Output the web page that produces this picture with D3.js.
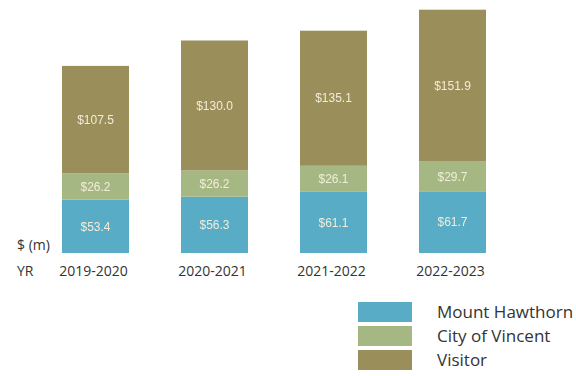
<!DOCTYPE html>
<html>
<head>
<meta charset="utf-8">
<script src="https://cdn.jsdelivr.net/npm/d3@7"></script>
<style>
  html, body { margin: 0; padding: 0; background: #fff; }
  svg { display: block; }
</style>
</head>
<body>
<svg id="chart" width="576" height="376"></svg>
<script>
// Financial years along the x axis
const years = ["2019-2020", "2020-2021", "2021-2022", "2022-2023"];
// Stacked series, bottom to top ($ millions)
const seriesNames = ["Mount Hawthorn", "City of Vincent", "Visitor"];
const mountHawthorn = [53.4, 56.3, 61.1, 61.7];
const cityOfVincent = [26.2, 26.2, 26.1, 29.7];
const visitor = [107.5, 130.0, 135.1, 151.9];
const seriesColors = ["#58acc5", "#a5b883", "#9a8f5a"];

const rows = years.map((yr, i) => ({
  year: yr,
  "Mount Hawthorn": mountHawthorn[i],
  "City of Vincent": cityOfVincent[i],
  "Visitor": visitor[i]
}));

const svg = d3.select("#chart");
const baseline = 253;

const x = d3.scaleBand()
  .domain(years)
  .range([36, 512])
  .paddingInner(0.437)
  .paddingOuter(0.2185);

const y = d3.scaleLinear()
  .domain([0, 253])
  .range([baseline, 0]);

const color = d3.scaleOrdinal().domain(seriesNames).range(seriesColors);

const stacked = d3.stack().keys(seriesNames)(rows);

const layers = svg.append("g").selectAll("g")
  .data(stacked)
  .join("g")
  .attr("fill", d => color(d.key));

layers.selectAll("rect")
  .data(d => d)
  .join("rect")
  .attr("x", d => x(d.data.year))
  .attr("y", d => y(d[1]))
  .attr("width", x.bandwidth())
  .attr("height", d => y(d[0]) - y(d[1]));

// Value labels centred in each segment
const defs = svg.append("defs");
defs.append("filter").attr("id", "soft")
  .append("feGaussianBlur").attr("stdDeviation", 0.35);

const labels = svg.append("g")
  .attr("font-family", "'Liberation Sans', Arial, sans-serif")
  .attr("font-size", 12)
  .attr("fill", "#f1ecd8")
  .attr("text-anchor", "middle")
  .attr("filter", "url(#soft)");

stacked.forEach(layer => {
  labels.selectAll(null)
    .data(layer)
    .join("text")
    .attr("x", d => x(d.data.year) + x.bandwidth() / 2)
    .attr("y", d => (y(d[0]) + y(d[1])) / 2)
    .attr("dy", "0.35em")
    .text(d => "$" + (d[1] - d[0]).toFixed(1));
});

// Year axis
const xAxis = svg.append("g")
  .attr("transform", `translate(0,${baseline})`)
  .call(d3.axisBottom(x).tickSize(0).tickPadding(13));
xAxis.select(".domain").remove();
xAxis.selectAll("text")
  .attr("font-family", "'Open Sans', sans-serif")
  .attr("font-size", 14)
  .attr("fill", "#333")
  .attr("dx", -2);

const axisText = svg.append("g")
  .attr("font-family", "'Open Sans', sans-serif")
  .attr("font-size", 14)
  .attr("fill", "#333");
axisText.append("text").attr("x", 17).attr("y", 250).text("$ (m)");
axisText.append("text").attr("x", 17).attr("y", 276).text("YR");

// Legend
const legend = svg.append("g");
const legendRows = legend.selectAll("g")
  .data(seriesNames)
  .join("g")
  .attr("transform", (d, i) => `translate(358,${302 + i * 24})`);
legendRows.append("rect")
  .attr("width", 54)
  .attr("height", 20)
  .attr("fill", d => color(d));
legendRows.append("text")
  .attr("x", 79)
  .attr("y", 10)
  .attr("dy", "0.35em")
  .attr("font-family", "'Open Sans', sans-serif")
  .attr("font-size", 17)
  .attr("fill", "#333")
  .text(d => d);
</script>
</body>
</html>
